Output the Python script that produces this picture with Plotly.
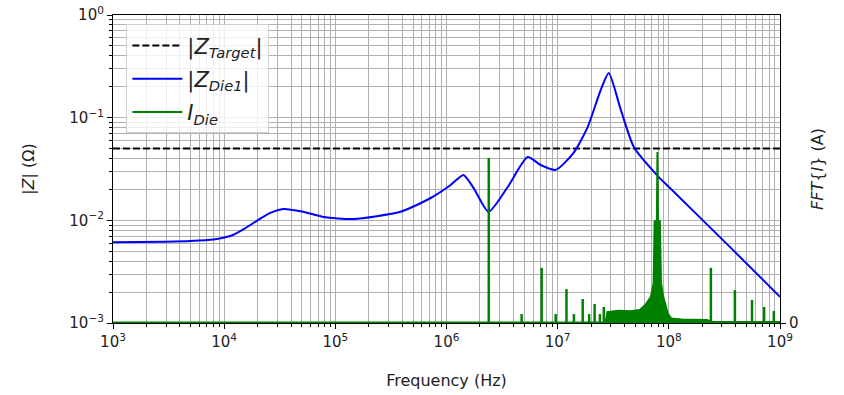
import plotly.graph_objects as go

# ---- data ----
z_target_f = [1e3, 1e9]
z_target = [0.05, 0.05]

z_die_f = [1e3, 3e3, 5e3, 8e3, 1e4, 1.2e4, 1.5e4, 2e4, 2.6e4, 3.4e4, 5e4, 7.8e4, 1.45e5, 3.85e5, 7.2e5,
           1.09e6, 1.42e6, 1.75e6, 2.39e6, 3.55e6, 5.37e6, 7.03e6, 9.6e6, 1.39e7, 1.86e7,
           2.44e7, 2.88e7, 3.7e7, 4.84e7, 7.97e7, 1.04e8, 3.27e8, 1e9]
z_die = [0.0061, 0.0062, 0.0063, 0.0065, 0.0068, 0.0072, 0.0082, 0.0100, 0.0118, 0.0129, 0.0122, 0.0108,
         0.0103, 0.0121, 0.0165,
         0.0221, 0.0277, 0.0207, 0.0121, 0.0211, 0.0414, 0.0346, 0.031, 0.0453, 0.081,
         0.186, 0.272, 0.119, 0.0519, 0.0270, 0.0203, 0.0060, 0.0018]

# FFT floor (continuous part, right axis, A)
fft_floor_f = [1e3, 2.7e7, 2.8e7, 3.5e7, 4.5e7, 5.5e7, 6.2e7, 6.9e7, 7.3e7, 7.45e7, 7.8e7, 7.9e7,
               8.0e7, 8.3e7, 8.5e7, 8.9e7, 9.8e7, 1.05e8, 1.3e8, 1.8e8, 2.2e8, 2.5e8, 1e9]
fft_floor = [0.002, 0.002, 0.035, 0.040, 0.038, 0.042, 0.060, 0.085, 0.13, 0.33, 0.33, 0.555,
             0.33, 0.33, 0.13, 0.085, 0.03, 0.015, 0.011, 0.010, 0.010, 0.003, 0.003]

# FFT harmonic spikes
spike_f = [2.4e6, 4.74e6, 7.18e6, 9.6e6, 1.2e7, 1.4e7, 1.68e7, 1.92e7, 2.15e7, 2.4e7, 2.6e7,
           2.39e8, 3.93e8, 5.6e8, 7.2e8, 8.8e8]
spike_a = [0.536, 0.029, 0.179, 0.029, 0.110, 0.029, 0.078, 0.029, 0.062, 0.029, 0.052,
           0.179, 0.107, 0.075, 0.052, 0.039]

x_ticks = [1e3, 1e4, 1e5, 1e6, 1e7, 1e8, 1e9]
x_ticktext = ["10<sup>3</sup>", "10<sup>4</sup>", "10<sup>5</sup>", "10<sup>6</sup>",
              "10<sup>7</sup>", "10<sup>8</sup>", "10<sup>9</sup>"]
y_ticks = [1e-3, 1e-2, 1e-1, 1e0]
y_ticktext = ["10<sup>−3</sup>", "10<sup>−2</sup>", "10<sup>−1</sup>", "10<sup>0</sup>"]

x_minor = [m * 10 ** e for e in range(3, 9) for m in range(2, 10)]
y_minor = [m * 10.0 ** e for e in range(-3, 0) for m in range(2, 10)]

# ---- figure ----
fig = go.Figure()

fig.add_trace(go.Scatter(x=z_target_f, y=z_target, mode="lines", legendgroup="a",
                         line=dict(color="black", width=2, dash="7px,3px"),
                         name="|<i>Z</i><sub><i>Target</i></sub>|"))
fig.add_trace(go.Scatter(x=z_die_f, y=z_die, mode="lines", legendgroup="b",
                         line=dict(color="#0000ff", width=2, shape="spline", smoothing=0.6),
                         name="|<i>Z</i><sub><i>Die1</i></sub>|"))
fig.add_trace(go.Scatter(x=fft_floor_f, y=fft_floor, mode="lines", yaxis="y2", showlegend=False,
                         line=dict(color="#008000", width=0), fill="tozeroy",
                         fillcolor="#008000"))
fig.add_trace(go.Scatter(x=fft_floor_f, y=fft_floor, mode="lines", yaxis="y2", legendgroup="c",
                         line=dict(color="#008000", width=2),
                         name="<i>I</i><sub><i>Die</i></sub>"))
sx, sy = [], []
for f, a in zip(spike_f, spike_a):
    sx += [f, f, None]
    sy += [0, a, None]
fig.add_trace(go.Scatter(x=sx, y=sy, mode="lines", yaxis="y2", showlegend=False,
                         line=dict(color="#008000", width=2.5)))

grid = "#b0b0b0"
titlefont = dict(family="DejaVu Sans", size=16, color="#222222")
tickfont = dict(family="DejaVu Sans", size=15, color="#222222")

fig.update_layout(
    width=844, height=395,
    margin=dict(l=113, r=64, t=15, b=72, autoexpand=False),
    plot_bgcolor="white", paper_bgcolor="white",
    font=tickfont,
    showlegend=True,
    legend=dict(x=0.02, y=0.97, xanchor="left", yanchor="top",
                bgcolor="rgba(255,255,255,0.8)", bordercolor="#d0d0d0", borderwidth=1,
                font=dict(family="DejaVu Sans", size=21, color="#222222"),
                itemwidth=50,
                traceorder="grouped", tracegroupgap=3),
    xaxis=dict(type="log", range=[3, 9], tickvals=x_ticks, ticktext=x_ticktext, tickfont=tickfont,
               showline=True, linecolor="black", linewidth=1.2, mirror=True,
               ticks="outside", ticklen=5, tickcolor="black", automargin=False,
               showgrid=True, gridcolor=grid, gridwidth=1,
               minor=dict(tickvals=x_minor, ticks="outside", ticklen=2.5, tickcolor="black",
                          showgrid=True, gridcolor=grid, gridwidth=1),
               title=dict(text="Frequency (Hz)", font=titlefont, standoff=24),
               zeroline=False),
    yaxis=dict(type="log", range=[-3, 0], tickvals=y_ticks, ticktext=y_ticktext, tickfont=tickfont,
               showline=True, linecolor="black", linewidth=1.2, mirror=True,
               ticks="outside", ticklen=5, tickcolor="black", automargin=False,
               showgrid=True, gridcolor=grid, gridwidth=1,
               minor=dict(tickvals=y_minor, ticks="outside", ticklen=2.5, tickcolor="black",
                          showgrid=True, gridcolor=grid, gridwidth=1),
               title=dict(text="|<i>Z</i>| (Ω)", font=titlefont, standoff=30),
               zeroline=False),
    yaxis2=dict(overlaying="y", side="right", range=[0, 1], tickvals=[0], ticktext=["0"],
                tickfont=tickfont, automargin=False,
                showgrid=False, zeroline=False, showline=True, linecolor="black", linewidth=1.2,
                ticks="outside", ticklen=5, tickcolor="black",
                title=dict(text="<i>FFT</i>{<i>I</i>} (A)", font=titlefont, standoff=14)),
)

fig.write_html("out.html", config={"displayModeBar": False},
               post_script="document.body.style.margin='0';document.body.style.padding='0';")
